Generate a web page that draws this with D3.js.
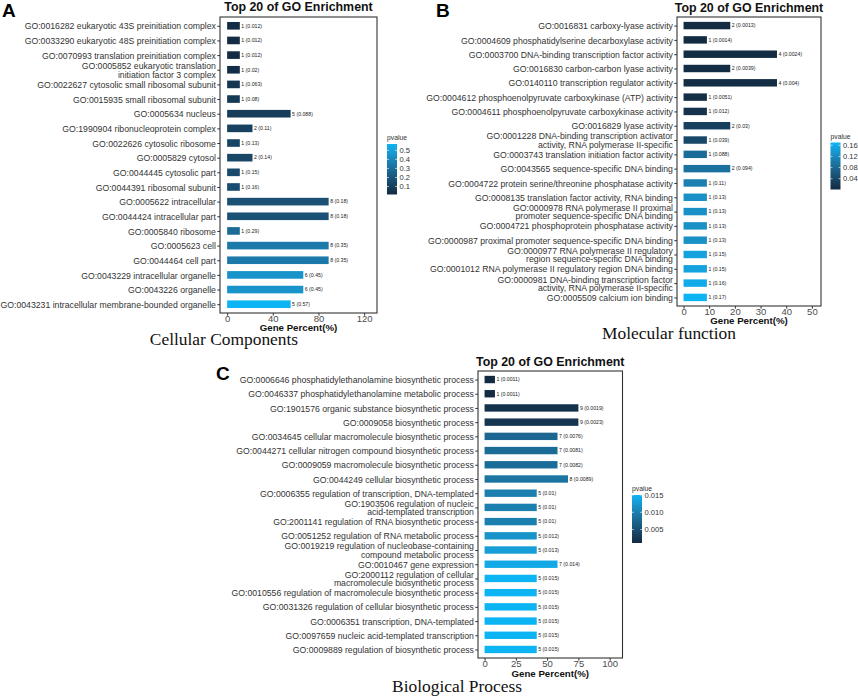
<!DOCTYPE html>
<html>
<head>
<meta charset="utf-8">
<script src="https://cdn.jsdelivr.net/npm/d3@7"></script>
<style>
  body { margin: 0; background: #fff; }
  svg { display: block; font-family: "Liberation Sans", Arial, sans-serif; }
</style>
</head>
<body>
<svg id="fig" width="858" height="698"></svg>
<script>
// ---- A: Cellular Components ----
var termsCC = [
  'GO:0016282 eukaryotic 43S preinitiation complex',
  'GO:0033290 eukaryotic 48S preinitiation complex',
  'GO:0070993 translation preinitiation complex',
  'GO:0005852 eukaryotic translation\ninitiation factor 3 complex',
  'GO:0022627 cytosolic small ribosomal subunit',
  'GO:0015935 small ribosomal subunit',
  'GO:0005634 nucleus',
  'GO:1990904 ribonucleoprotein complex',
  'GO:0022626 cytosolic ribosome',
  'GO:0005829 cytosol',
  'GO:0044445 cytosolic part',
  'GO:0044391 ribosomal subunit',
  'GO:0005622 intracellular',
  'GO:0044424 intracellular part',
  'GO:0005840 ribosome',
  'GO:0005623 cell',
  'GO:0044464 cell part',
  'GO:0043229 intracellular organelle',
  'GO:0043226 organelle',
  'GO:0043231 intracellular membrane-bounded organelle'
];
var countCC   = [1, 1, 1, 1, 1, 1, 5, 2, 1, 2, 1, 1, 8, 8, 1, 8, 8, 6, 6, 5];
var percentCC = [11.1, 11.1, 11.1, 11.1, 11.1, 11.1, 55.6, 22.2, 11.1, 22.2, 11.1, 11.1, 88.9, 88.9, 11.1, 88.9, 88.9, 66.7, 66.7, 55.6];
var pvalCC    = [0.012, 0.012, 0.012, 0.02, 0.063, 0.08, 0.088, 0.11, 0.13, 0.14, 0.15, 0.16, 0.18, 0.18, 0.29, 0.35, 0.35, 0.45, 0.45, 0.57];
var xTicksCC  = [0, 40, 80, 120];
var legendTicksCC = ['0.1', '0.2', '0.3', '0.4', '0.5'];

// ---- B: Molecular function ----
var termsMF = [
  'GO:0016831 carboxy-lyase activity',
  'GO:0004609 phosphatidylserine decarboxylase activity',
  'GO:0003700 DNA-binding transcription factor activity',
  'GO:0016830 carbon-carbon lyase activity',
  'GO:0140110 transcription regulator activity',
  'GO:0004612 phosphoenolpyruvate carboxykinase (ATP) activity',
  'GO:0004611 phosphoenolpyruvate carboxykinase activity',
  'GO:0016829 lyase activity',
  'GO:0001228 DNA-binding transcription activator\nactivity, RNA polymerase II-specific',
  'GO:0003743 translation initiation factor activity',
  'GO:0043565 sequence-specific DNA binding',
  'GO:0004722 protein serine/threonine phosphatase activity',
  'GO:0008135 translation factor activity, RNA binding',
  'GO:0000978 RNA polymerase II proximal\npromoter sequence-specific DNA binding',
  'GO:0004721 phosphoprotein phosphatase activity',
  'GO:0000987 proximal promoter sequence-specific DNA binding',
  'GO:0000977 RNA polymerase II regulatory\nregion sequence-specific DNA binding',
  'GO:0001012 RNA polymerase II regulatory region DNA binding',
  'GO:0000981 DNA-binding transcription factor\nactivity, RNA polymerase II-specific',
  'GO:0005509 calcium ion binding'
];
var countMF   = [2, 1, 4, 2, 4, 1, 1, 2, 1, 1, 2, 1, 1, 1, 1, 1, 1, 1, 1, 1];
var percentMF = [18.2, 9.1, 36.4, 18.2, 36.4, 9.1, 9.1, 18.2, 9.1, 9.1, 18.2, 9.1, 9.1, 9.1, 9.1, 9.1, 9.1, 9.1, 9.1, 9.1];
var pvalMF    = [0.0013, 0.0014, 0.0024, 0.0039, 0.004, 0.0051, 0.012, 0.03, 0.039, 0.088, 0.094, 0.11, 0.13, 0.13, 0.13, 0.13, 0.15, 0.15, 0.16, 0.17];
var xTicksMF  = [0, 10, 20, 30, 40, 50];
var legendTicksMF = ['0.04', '0.08', '0.12', '0.16'];

// ---- C: Biological Process ----
var termsBP = [
  'GO:0006646 phosphatidylethanolamine biosynthetic process',
  'GO:0046337 phosphatidylethanolamine metabolic process',
  'GO:1901576 organic substance biosynthetic process',
  'GO:0009058 biosynthetic process',
  'GO:0034645 cellular macromolecule biosynthetic process',
  'GO:0044271 cellular nitrogen compound biosynthetic process',
  'GO:0009059 macromolecule biosynthetic process',
  'GO:0044249 cellular biosynthetic process',
  'GO:0006355 regulation of transcription, DNA-templated',
  'GO:1903506 regulation of nucleic\nacid-templated transcription',
  'GO:2001141 regulation of RNA biosynthetic process',
  'GO:0051252 regulation of RNA metabolic process',
  'GO:0019219 regulation of nucleobase-containing\ncompound metabolic process',
  'GO:0010467 gene expression',
  'GO:2000112 regulation of cellular\nmacromolecule biosynthetic process',
  'GO:0010556 regulation of macromolecule biosynthetic process',
  'GO:0031326 regulation of cellular biosynthetic process',
  'GO:0006351 transcription, DNA-templated',
  'GO:0097659 nucleic acid-templated transcription',
  'GO:0009889 regulation of biosynthetic process'
];
var countBP   = [1, 1, 9, 9, 7, 7, 7, 8, 5, 5, 5, 5, 5, 7, 5, 5, 5, 5, 5, 5];
var percentBP = [8.3, 8.3, 75, 75, 58.3, 58.3, 58.3, 66.7, 41.7, 41.7, 41.7, 41.7, 41.7, 58.3, 41.7, 41.7, 41.7, 41.7, 41.7, 41.7];
var pvalBP    = [0.0011, 0.0011, 0.0019, 0.0023, 0.0076, 0.0081, 0.0082, 0.0089, 0.01, 0.01, 0.01, 0.012, 0.013, 0.014, 0.015, 0.015, 0.015, 0.015, 0.015, 0.015];
var xTicksBP  = [0, 25, 50, 75, 100];
var legendTicksBP = ['0.005', '0.010', '0.015'];

var lowColor = '#132B43', highColor = '#0DB4F4';
var sans = '"Liberation Sans", Arial, sans-serif';

var panels = [
  { letter: 'A', letterX: 2, letterY: 17, name: 'Cellular Components', nameX: 224, nameY: 345,
    terms: termsCC, count: countCC, percent: percentCC, pval: pvalCC, xTicks: xTicksCC, xMax: 125,
    box: { x0: 220, x1: 377, y0: 17, y1: 313 }, titleY: 10.5, xTitleGap: 17.6,
    legend: { x: 387, y0: 144, y1: 194.5, ticks: legendTicksCC } },
  { letter: 'B', letterX: 436, letterY: 17, name: 'Molecular function', nameX: 669, nameY: 338.5,
    terms: termsMF, count: countMF, percent: percentMF, pval: pvalMF, xTicks: xTicksMF, xMax: 51,
    box: { x0: 677, x1: 821, y0: 17, y1: 306 }, titleY: 11.5, xTitleGap: 18,
    legend: { x: 830.5, y0: 142.5, y1: 189.5, ticks: legendTicksMF } },
  { letter: 'C', letterX: 216, letterY: 380, name: 'Biological Process', nameX: 457, nameY: 691.5,
    terms: termsBP, count: countBP, percent: percentBP, pval: pvalBP, xTicks: xTicksBP, xMax: 105,
    box: { x0: 478, x1: 622.5, y0: 371, y1: 658 }, titleY: 365.5, xTitleGap: 18.8,
    legend: { x: 632, y0: 495, y1: 543, ticks: legendTicksBP } }
];

var svg = d3.select('#fig');
var defs = svg.append('defs');

panels.forEach(function(p, k) { drawPanel(p, k); });

function drawPanel(p, k) {
  var box = p.box;
  var x = d3.scaleLinear().domain([-0.05 * p.xMax, 1.05 * p.xMax]).range([box.x0, box.x1]);
  var y = d3.scalePoint().domain(p.terms).range([box.y0, box.y1]).padding(0.6);
  var color = d3.scaleLinear().domain(d3.extent(p.pval))
    .range([lowColor, highColor]).interpolate(d3.interpolateLab);
  var bh = y.step() * 0.52;
  var g = svg.append('g');

  // bars
  g.selectAll('rect.bar').data(p.terms).enter().append('rect')
    .attr('class', 'bar')
    .attr('x', x(0))
    .attr('y', function(d) { return y(d) - bh / 2; })
    .attr('width', function(d, i) { return x(p.percent[i]) - x(0); })
    .attr('height', bh)
    .attr('fill', function(d, i) { return color(p.pval[i]); });

  // count (pvalue) labels
  g.selectAll('text.lab').data(p.terms).enter().append('text')
    .attr('class', 'lab')
    .attr('x', function(d, i) { return x(p.percent[i]) + 1.5; })
    .attr('y', function(d) { return y(d); })
    .attr('dy', '0.35em')
    .attr('font-size', 5.2)
    .attr('fill', '#222')
    .text(function(d, i) { return p.count[i] + ' (' + p.pval[i] + ')'; });

  // panel border
  g.append('rect')
    .attr('x', box.x0).attr('y', box.y0)
    .attr('width', box.x1 - box.x0).attr('height', box.y1 - box.y0)
    .attr('fill', 'none').attr('stroke', '#333').attr('stroke-width', 1.1);

  // y axis with wrapped labels
  var yAxis = g.append('g').attr('transform', 'translate(' + box.x0 + ',0)')
    .call(d3.axisLeft(y).tickSize(2.7).tickPadding(1.4))
    .attr('font-family', sans).attr('font-size', 8.7);
  yAxis.select('.domain').remove();
  yAxis.selectAll('line').attr('stroke', '#333');
  yAxis.selectAll('text')
    .attr('fill', '#333')
    .attr('dy', null)
    .each(function(d) {
      var t = d3.select(this), lines = d.split('\n'), tx = t.attr('x');
      t.text(null);
      lines.forEach(function(line, i) {
        t.append('tspan').attr('x', tx)
          .attr('y', (i - (lines.length - 1) / 2) * 8.4 + 3.1)
          .text(line);
      });
    });

  // x axis
  var xAxis = g.append('g').attr('transform', 'translate(0,' + box.y1 + ')')
    .call(d3.axisBottom(x).tickValues(p.xTicks).tickSize(2.7).tickPadding(0))
    .attr('font-family', sans).attr('font-size', 9.5);
  xAxis.select('.domain').remove();
  xAxis.selectAll('line').attr('stroke', '#333');
  xAxis.selectAll('text').attr('fill', '#4d4d4d');

  var cx = (box.x0 + box.x1) / 2;
  g.append('text').attr('x', cx).attr('y', box.y1 + p.xTitleGap)
    .attr('text-anchor', 'middle').attr('font-size', 9.7).attr('font-weight', 'bold')
    .attr('fill', '#111').text('Gene Percent(%)');

  g.append('text').attr('x', cx).attr('y', p.titleY)
    .attr('text-anchor', 'middle').attr('font-size', 12.4).attr('font-weight', 'bold')
    .attr('fill', '#111').text('Top 20 of GO Enrichment');

  g.append('text').attr('x', p.letterX).attr('y', p.letterY)
    .attr('font-size', 19).attr('font-weight', 'bold').attr('fill', '#000').text(p.letter);

  g.append('text').attr('x', p.nameX).attr('y', p.nameY)
    .attr('text-anchor', 'middle').attr('font-size', 17.4)
    .attr('font-family', '"Liberation Serif", "Times New Roman", serif')
    .attr('fill', '#111').text(p.name);

  // colour bar legend
  var lg = p.legend, ext = d3.extent(p.pval);
  var gradId = 'grad' + k;
  var grad = defs.append('linearGradient').attr('id', gradId)
    .attr('x1', 0).attr('y1', 1).attr('x2', 0).attr('y2', 0);
  d3.range(0, 1.0001, 0.1).forEach(function(t) {
    grad.append('stop').attr('offset', t)
      .attr('stop-color', color(ext[0] + t * (ext[1] - ext[0])));
  });
  var ly = d3.scaleLinear().domain(ext).range([lg.y1, lg.y0]);
  g.append('rect').attr('x', lg.x).attr('y', lg.y0)
    .attr('width', 10).attr('height', lg.y1 - lg.y0)
    .attr('fill', 'url(#' + gradId + ')');
  g.append('text').attr('x', lg.x).attr('y', lg.y0 - 4)
    .attr('font-size', 6.8).attr('fill', '#333').text('pvalue');
  var lt = g.selectAll('g.lt').data(lg.ticks).enter().append('g')
    .attr('transform', function(d) { return 'translate(0,' + ly(+d) + ')'; });
  lt.append('line').attr('x1', lg.x).attr('x2', lg.x + 2)
    .attr('stroke', '#fff').attr('stroke-width', 0.6);
  lt.append('line').attr('x1', lg.x + 8).attr('x2', lg.x + 10)
    .attr('stroke', '#fff').attr('stroke-width', 0.6);
  lt.append('text').attr('x', lg.x + 12.5).attr('dy', '0.35em')
    .attr('font-size', 7.6).attr('fill', '#333').text(function(d) { return d; });
}
</script>
</body>
</html>
